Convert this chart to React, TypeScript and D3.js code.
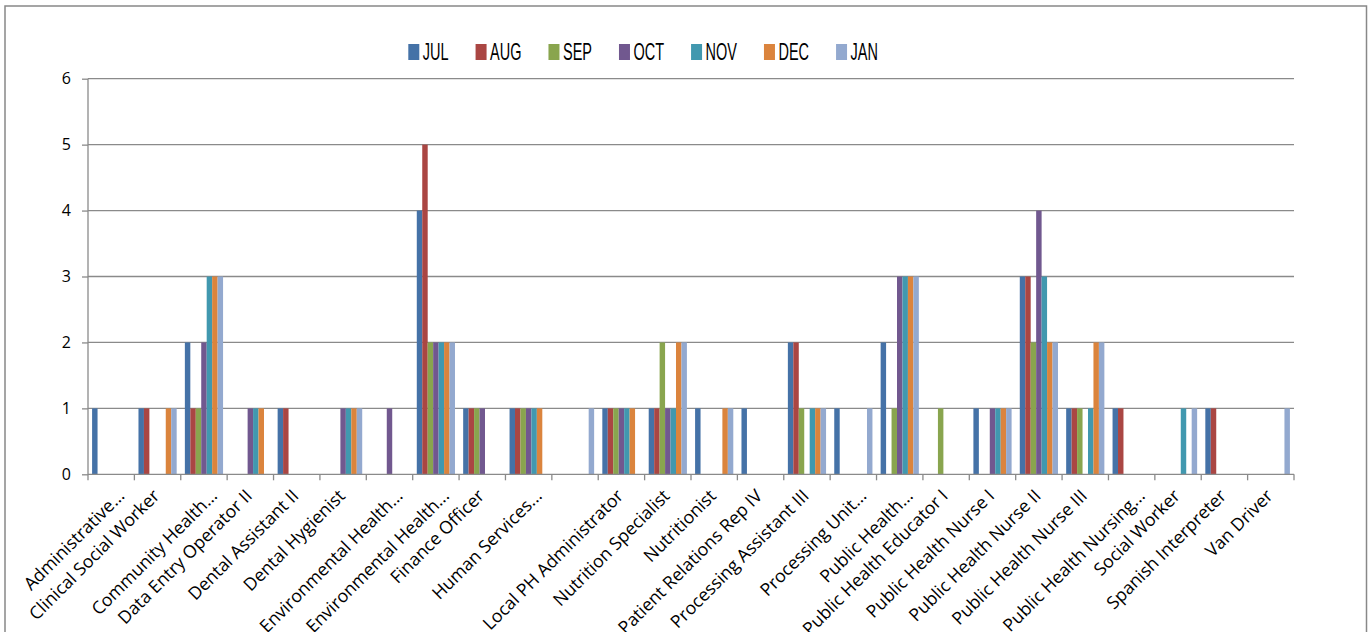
import React, { useEffect, useRef } from "react";
import * as d3 from "d3";

const categories = [
  "Administrative...", "Clinical Social Worker", "Community Health...", "Data Entry Operator II",
  "Dental Assistant II", "Dental Hygienist", "Environmental Health...", "Environmental Health...",
  "Finance Officer", "Human Services...", "", "Local PH Administrator", "Nutrition Specialist",
  "Nutritionist", "Patient Relations Rep IV", "Processing Assistant III", "Processing Unit...",
  "Public Health...", "Public Health Educator I", "Public Health Nurse I", "Public Health Nurse II",
  "Public Health Nurse III", "Public Health Nursing...", "Social Worker", "Spanish Interpreter", "Van Driver",
];

const seriesNames = ["JUL", "AUG", "SEP", "OCT", "NOV", "DEC", "JAN"];
const seriesColors = ["#4572A7", "#AA4643", "#89A54E", "#71588F", "#4198AF", "#DB843D", "#93A9CF"];

const JUL = [1,1,2,0,1,0,0,4,1,1,0,1,1,1,1,2,1,2,0,1,3,1,1,0,1,0];
const AUG = [0,1,1,0,1,0,0,5,1,1,0,1,1,0,0,2,0,0,0,0,3,1,1,0,1,0];
const SEP = [0,0,1,0,0,0,0,2,1,1,0,1,2,0,0,1,0,1,1,0,2,1,0,0,0,0];
const OCT = [0,0,2,1,0,1,1,2,1,1,0,1,1,0,0,0,0,3,0,1,4,0,0,0,0,0];
const NOV = [0,0,3,1,0,1,0,2,0,1,0,1,1,0,0,1,0,3,0,1,3,1,0,1,0,0];
const DEC = [0,1,3,1,0,1,0,2,0,1,0,1,2,1,0,1,0,3,0,1,2,2,0,0,0,0];
const JAN = [0,1,3,0,0,1,0,2,0,0,1,0,2,1,0,1,1,3,0,1,2,2,0,1,0,1];

const seriesValues = [JUL, AUG, SEP, OCT, NOV, DEC, JAN];
const yTicks = [0, 1, 2, 3, 4, 5, 6];

const W = 1370;
const H = 632;

export default function App() {
  const ref = useRef<SVGSVGElement | null>(null);

  useEffect(() => {
    const svg = d3.select(ref.current);
    svg.selectAll("*").remove();

    const left = 88, right = 1294, top = 78.7, bottom = 474.3;
    const gridColor = "#8a8a8a";

    // chart border
    svg.append("rect")
      .attr("x", 5).attr("y", 6).attr("width", 1361.5).attr("height", 700)
      .attr("fill", "#fff").attr("stroke", "#888").attr("stroke-width", 1.5);

    const x0 = d3.scaleBand<number>()
      .domain(categories.map((_, i) => i))
      .range([left, right])
      .paddingInner(0).paddingOuter(0);
    const x1 = d3.scaleBand<number>()
      .domain(seriesNames.map((_, i) => i))
      .range([0, x0.bandwidth()])
      .paddingInner(0)
      .paddingOuter(0.75);
    const y = d3.scaleLinear().domain([0, 6]).range([bottom, top]);

    // gridlines
    svg.append("g").selectAll("line")
      .data(yTicks.filter((t) => t > 0))
      .join("line")
      .attr("x1", left).attr("x2", right)
      .attr("y1", (d) => y(d)).attr("y2", (d) => y(d))
      .attr("stroke", gridColor).attr("stroke-width", 1.3);

    // bars
    const gBars = svg.append("g");
    seriesValues.forEach((vals, s) => {
      gBars.append("g").selectAll("rect")
        .data(vals.map((v, i) => ({ v, i })).filter((d) => d.v > 0))
        .join("rect")
        .attr("x", (d) => (x0(d.i) as number) + (x1(s) as number))
        .attr("width", x1.bandwidth())
        .attr("y", (d) => y(d.v))
        .attr("height", (d) => y(0) - y(d.v))
        .attr("fill", seriesColors[s]);
    });

    // y axis
    const yAxis = d3.axisLeft(y).tickValues(yTicks).tickSize(6).tickPadding(11).tickFormat(d3.format("d"));
    const gy = svg.append("g").attr("transform", `translate(${left},0)`).call(yAxis);
    gy.select(".domain").attr("stroke", gridColor).attr("stroke-width", 1.3).attr("d", `M0,${bottom}V${top}`);
    gy.selectAll(".tick line").attr("stroke", gridColor).attr("stroke-width", 1.3);
    gy.selectAll(".tick text")
      .attr("font-family", "'Open Sans', 'Liberation Sans', sans-serif")
      .attr("font-size", 16).attr("fill", "#000");

    // x axis line and ticks at category boundaries
    const gx = svg.append("g");
    gx.append("line").attr("x1", left).attr("x2", right).attr("y1", bottom).attr("y2", bottom)
      .attr("stroke", gridColor).attr("stroke-width", 1.3);
    const bounds = categories.map((_, i) => x0(i) as number).concat([right]);
    gx.selectAll("line.tk").data(bounds).join("line").attr("class", "tk")
      .attr("x1", (d) => d).attr("x2", (d) => d)
      .attr("y1", bottom).attr("y2", bottom + 6)
      .attr("stroke", gridColor).attr("stroke-width", 1.3);

    // category labels
    gx.selectAll("text").data(categories.map((c, i) => ({ c, i })).filter((d) => d.c !== ""))
      .join("text")
      .attr("transform", (d) => `translate(${(x0(d.i) as number) + x0.bandwidth() / 2 + 3},${497}) rotate(-45)`)
      .attr("text-anchor", "end")
      .attr("x", (d) => (d.c.endsWith("...") ? 8 : 0))
      .attr("y", (d) => (d.c.endsWith("...") ? 8 : 0))
      .attr("font-family", "'Open Sans', 'Liberation Sans', sans-serif")
      .attr("font-size", 17.7)
      .attr("fill", "#000")
      .text((d) => d.c);

    // legend
    const gl = svg.append("g");
    let lx = 408.3;
    seriesNames.forEach((name, s) => {
      gl.append("rect").attr("x", lx).attr("y", 44).attr("width", 11).attr("height", 16)
        .attr("fill", seriesColors[s]);
      const t = gl.append("text")
        .attr("transform", `translate(${lx + 14.5},60) scale(0.63,1)`)
        .attr("font-family", "'Liberation Sans', Arial, sans-serif")
        .attr("font-size", 23)
        .attr("fill", "#000")
        .text(name);
      const tw = (t.node() as SVGTextElement).getComputedTextLength() * 0.63;
      lx = lx + 14.5 + tw + 27;
    });
  }, []);

  return (
    <svg
      ref={ref}
      width={W}
      height={H}
      style={{ position: "absolute", left: 0, top: 0, background: "#fff" }}
    />
  );
}
